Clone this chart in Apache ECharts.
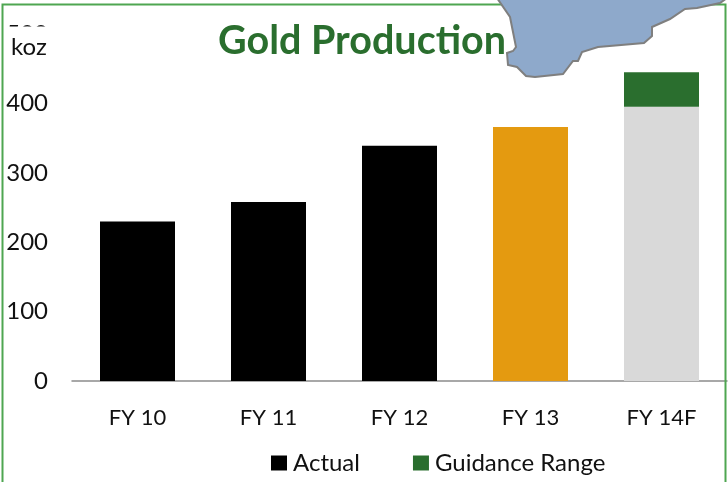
<!DOCTYPE html>
<html><head><meta charset="utf-8">
<style>html,body{margin:0;padding:0;background:#fff}#c{width:728px;height:482px}</style>
<script src="https://cdn.jsdelivr.net/npm/echarts@6/dist/echarts.min.js"></script>
</head><body><div id="c"></div>
<script>
const categories = ['FY 10','FY 11','FY 12','FY 13','FY 14F'];
const actual = [230,258,339,366,395];
const guidance = [null,null,null,null,50];
const barColors = ['#000000','#000000','#000000','#e49a10','#d9d9d9'];
const mapOutline = [[497,-2],[510,17],[516,47],[513,51],[507,53],[508,65],[517,67],[526,76],[535,77],[563,74],[573,61],[578,61],[582,52],[598,47],[644,43],[652,36],[652,27],[670,19],[685,9],[697,8],[720,3],[727,-2]];
const font = 'Lato';
const chart = echarts.init(document.getElementById('c'));
chart.setOption({
  animation:false,
  backgroundColor:'#fff',
  textStyle:{fontFamily:font},
  title:{text:'Gold Production',left:218,top:21,padding:0,textStyle:{fontFamily:font,fontWeight:'bold',fontSize:39.5,color:'#2a6e2e'}},
  grid:{left:72,right:1,top:34,bottom:101},
  legend:{left:271,top:451,padding:0,itemGap:53,itemWidth:16,itemHeight:15,icon:'rect',textStyle:{fontFamily:font,fontSize:24,color:'#111',padding:[0,0,0,1]},data:['Actual','Guidance Range']},
  xAxis:{type:'category',data:categories,axisTick:{show:false},axisLine:{lineStyle:{color:'#8c8c8c',width:1.5}},axisLabel:{fontSize:22,color:'#111',margin:26}},
  yAxis:{type:'value',min:0,max:500,interval:100,axisLine:{show:false},axisTick:{show:false},splitLine:{show:false},axisLabel:{fontSize:24,color:'#111',margin:24}},
  series:[
    {name:'Actual',type:'bar',stack:'a',barWidth:75,itemStyle:{color:'#000'},data:actual.map((v,i)=>({value:v,itemStyle:{color:barColors[i]}}))},
    {name:'Guidance Range',type:'bar',stack:'a',barWidth:75,itemStyle:{color:'#2a6e2e'},data:guidance}
  ],
  graphic:[
    {type:'rect',z:50,shape:{x:2.5,y:4.5,width:723,height:490},style:{fill:'none',stroke:'#4ea651',lineWidth:2}},
    {type:'rect',z:60,shape:{x:4,y:26.5,width:60,height:34},style:{fill:'#fff'}},
    {type:'text',z:61,style:{x:11,y:35,text:'koz',fontFamily:font,fontSize:24,fill:'#111'}},
    {type:'polygon',z:70,shape:{points:mapOutline},style:{fill:'#8ea9cb',stroke:'#7f7f7f',lineWidth:2}}
  ]
});
</script></body></html>
